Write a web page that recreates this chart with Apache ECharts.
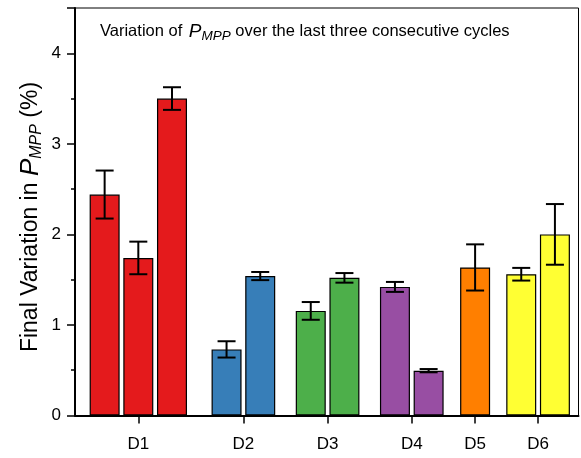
<!DOCTYPE html>
<html>
<head>
<meta charset="utf-8">
<script src="https://cdn.jsdelivr.net/npm/echarts@6/dist/echarts.min.js"></script>
<style>
  html, body { margin: 0; padding: 0; background: #fff; }
  #chart { width: 581px; height: 458px; }
</style>
</head>
<body>
<div id="chart"></div>
<script>
// Device groups and where each group's tick sits on the x scale
const groupLabels = ['D1', 'D2', 'D3', 'D4', 'D5', 'D6'];
const groupTickPos = [1.88, 5.0, 7.5, 10.0, 11.88, 13.75];

// One entry per bar: x position, group, final variation (%) and its error
const barPos   = [0.88, 1.88, 2.88, 4.5, 5.5, 7.0, 8.0, 9.5, 10.5, 11.88, 13.25, 14.25];
const barGroup = ['D1', 'D1', 'D1', 'D2', 'D2', 'D3', 'D3', 'D4', 'D4', 'D5', 'D6', 'D6'];
const barValue = [2.44, 1.74, 3.50, 0.73, 1.54, 1.155, 1.52, 1.42, 0.495, 1.635, 1.56, 2.00];
const barError = [0.265, 0.18, 0.125, 0.09, 0.045, 0.098, 0.053, 0.055, 0.018, 0.255, 0.07, 0.335];

const groupColors = {
  D1: '#E41A1C', D2: '#377EB8', D3: '#4DAF4A',
  D4: '#984EA3', D5: '#FF7F00', D6: '#FFFF33'
};

const yTicks = [0, 1, 2, 3, 4];

const FONT = '"Liberation Sans", Arial, Helvetica, sans-serif';

const barData = barPos.map((x, i) => ({
  value: [x, barValue[i]],
  itemStyle: { color: groupColors[barGroup[i]] }
}));
const errData = barPos.map((x, i) => [x, barValue[i], barError[i]]);

const chart = echarts.init(document.getElementById('chart'), null, { renderer: 'canvas' });

chart.setOption({
  backgroundColor: '#fff',
  animation: false,
  grid: {
    left: 75, right: 2.5, top: 8, bottom: 42.5,
    show: true, borderColor: '#000', borderWidth: 1
  },
  xAxis: {
    type: 'value',
    min: 0, max: 14.95,
    axisLine: { show: true, onZero: false, lineStyle: { color: '#000', width: 2 } },
    axisTick: {
      show: true, inside: false, length: 8,
      customValues: groupTickPos,
      lineStyle: { color: '#000', width: 1.5 }
    },
    axisLabel: {
      customValues: groupTickPos,
      margin: 20,
      color: '#000', fontSize: 17, fontFamily: FONT,
      formatter: v => {
        const k = groupTickPos.findIndex(p => Math.abs(p - v) < 1e-6);
        return k >= 0 ? groupLabels[k] : '';
      }
    },
    splitLine: { show: false }
  },
  yAxis: {
    type: 'value',
    min: 0, max: 4.5, interval: 1,
    axisLine: { show: true, lineStyle: { color: '#000', width: 2 } },
    axisTick: { show: true, inside: false, length: 8, lineStyle: { color: '#000', width: 1.5 } },
    minorTick: { show: true, splitNumber: 2, length: 4, lineStyle: { color: '#000', width: 1.5 } },
    axisLabel: {
      margin: 14, color: '#000', fontSize: 17, fontFamily: FONT,
      showMaxLabel: false,
      formatter: v => (yTicks.includes(v) ? String(v) : '')
    },
    splitLine: { show: false }
  },
  graphic: [
    {
      // in-plot caption
      type: 'text',
      left: 100, top: 22,
      style: {
        text: 'Variation of {i|P}{sub|MPP} over the last three consecutive cycles',
        fill: '#000',
        font: '16.5px ' + FONT,
        rich: {
          i: { fontSize: 19, fontStyle: 'italic', fontFamily: FONT, fill: '#000', padding: [0, 0, 0, 2] },
          sub: { fontSize: 13.5, fontStyle: 'italic', fontFamily: FONT, fill: '#000', padding: [9, 0, 0, 0] }
        }
      }
    },
    {
      // y-axis title
      type: 'text',
      x: 31, y: 217,
      rotation: Math.PI / 2,
      style: {
        text: 'Final Variation in {i|P}{sub|MPP} (%)',
        fill: '#000',
        font: '23px ' + FONT,
        align: 'center',
        verticalAlign: 'middle',
        rich: {
          i: { fontSize: 26, fontStyle: 'italic', fontFamily: FONT, fill: '#000' },
          sub: { fontSize: 16, fontStyle: 'italic', fontFamily: FONT, fill: '#000', padding: [12, 0, 0, 0] }
        }
      }
    }
  ],
  series: [
    {
      type: 'bar',
      data: barData,
      barWidth: 30,
      itemStyle: { borderColor: '#000', borderWidth: 1.2 },
      z: 2
    },
    {
      type: 'custom',
      data: errData,
      z: 3,
      renderItem: (params, api) => {
        const x = api.value(0), y = api.value(1), e = api.value(2);
        const hi = api.coord([x, y + e]);
        const lo = api.coord([x, y - e]);
        const half = 9;
        const st = { stroke: '#000', lineWidth: 2 };
        return {
          type: 'group',
          children: [
            { type: 'line', shape: { x1: hi[0], y1: hi[1], x2: lo[0], y2: lo[1] }, style: st },
            { type: 'line', shape: { x1: hi[0] - half, y1: hi[1], x2: hi[0] + half, y2: hi[1] }, style: st },
            { type: 'line', shape: { x1: lo[0] - half, y1: lo[1], x2: lo[0] + half, y2: lo[1] }, style: st }
          ]
        };
      }
    }
  ]
});
</script>
</body>
</html>
